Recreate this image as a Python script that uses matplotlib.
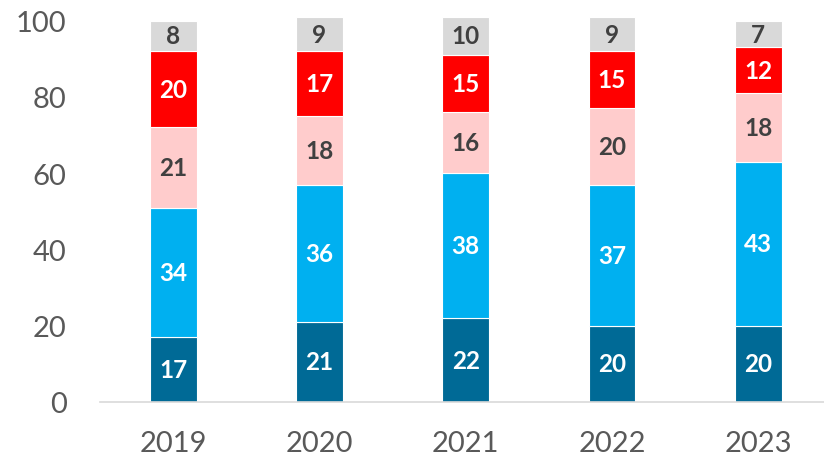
import numpy as np
import matplotlib.pyplot as plt

plt.rcParams['font.family'] = ['Lato', 'DejaVu Sans']

years = ['2019', '2020', '2021', '2022', '2023']
s_dark = [17, 21, 22, 20, 20]
s_light = [34, 36, 38, 37, 43]
s_pink = [21, 18, 16, 20, 18]
s_red = [20, 17, 15, 15, 12]
s_gray = [8, 9, 10, 9, 7]

series = [s_dark, s_light, s_pink, s_red, s_gray]
colors = ['#006A96', '#00B0F0', '#FFCCCC', '#FF0000', '#D9D9D9']
txt_colors = ['white', 'white', '#404040', 'white', '#404040']

fig = plt.figure(figsize=(8.24, 4.6), dpi=100)
ax = fig.add_axes([100 / 824, 57 / 460, 1 - 100 / 824, (403 - 16) / 460])

x = np.arange(len(years))
bottom = np.zeros(len(years))
for vals, c, tc in zip(series, colors, txt_colors):
    bars = ax.bar(x, vals, width=0.32, bottom=bottom, color=c,
                  edgecolor='white', linewidth=0.8)
    ax.bar_label(bars, labels=[str(v) for v in vals], label_type='center',
                 color=tc, fontsize=17.5, fontweight='bold')
    bottom += np.array(vals)

ax.set_xlim(-0.5, 4.45)
ax.set_ylim(0, 101.5)
ax.set_yticks([0, 20, 40, 60, 80, 100])
ax.set_xticks(x)
ax.set_xticklabels(years)
ax.tick_params(axis='both', length=0, labelsize=21, colors='#595959')
ax.tick_params(axis='x', pad=20)
ax.tick_params(axis='y', pad=24)
for s in ['top', 'right', 'left']:
    ax.spines[s].set_visible(False)
ax.spines['bottom'].set_color('#D9D9D9')
ax.spines['bottom'].set_linewidth(1.2)

fig.savefig('out.png', dpi=100)
